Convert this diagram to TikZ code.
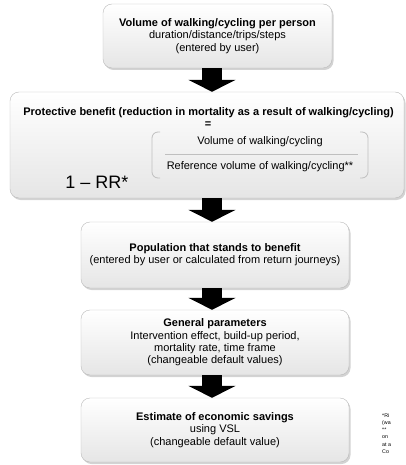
\documentclass[tikz,border=0pt]{standalone}
\usepackage{fontspec}
\setmainfont{Liberation Sans}
\usetikzlibrary{arrows.meta,shadows}

\begin{document}
\begin{tikzpicture}[x=1pt,y=-1pt,
	stepbox/.style={draw=gray!55,rounded corners=9pt,top color=white,bottom color=gray!20,
		drop shadow={opacity=0.35,shadow xshift=1.5pt,shadow yshift=-2pt},
		inner sep=0pt,align=center,font=\fontsize{11}{12.3}\selectfont},
	plaintext/.style={inner sep=0pt,align=center,font=\fontsize{11}{12.3}\selectfont},
	bracket/.style={draw=gray!50,line width=0.8pt,rounded corners=6pt},
	blockarrow/.style={line width=20pt,-{Triangle[width=47pt,length=12pt]}},
	fnote/.style={inner sep=0pt,align=left,font=\fontsize{5.3}{7.3}\selectfont}]
\useasboundingbox (0,0) rectangle (406,465);
		\coordinate (ax) at (212,0);
		% boxes
		\node[stepbox,minimum width=229pt,minimum height=64pt] (vol) at (217.5,36)
			{\textbf{Volume of walking/cycling per person}\\duration/distance/trips/steps\\(entered by user)};
		\node[stepbox,minimum width=394pt,minimum height=106pt] (prot) at (207,145) {};
		\node[stepbox,minimum width=268pt,minimum height=66pt] (pop) at (215,255)
			{\textbf{Population that stands to benefit}\\(entered by user or calculated from return journeys)};
		\node[stepbox,minimum width=268pt,minimum height=65pt] (gen) at (215,342.5)
			{\textbf{General parameters}\\Intervention effect, build-up period,\\mortality rate, time frame\\(changeable default values)};
		\node[stepbox,minimum width=268pt,minimum height=64pt] (est) at (215,430)
			{\textbf{Estimate of economic savings}\\using VSL\\(changeable default value)};
		% inside the protective benefit box
		\node[plaintext] (title) at (208.5,113) {\textbf{Protective benefit (reduction in mortality as a result of walking/cycling)}};
		\node[plaintext] (eq) at (208,125) {\textbf{=}};
		\node[plaintext] (num) at (260,142) {Volume of walking/cycling};
		\node[plaintext] (den) at (260,167) {Reference volume of walking/cycling**};
		\node[inner sep=0pt,font=\fontsize{18}{20}\selectfont] (rr) at (97,182) {1 – RR*};
		\draw[bracket] (160,132) -- (152,132) -- (152,178) -- (160,178);
		\draw[bracket] (360,132) -- (368,132) -- (368,178) -- (360,178);
		\draw[draw=gray!50,line width=0.6pt] (165,154) -- (358,154);
		% footnote (cut by the page edge)
		\node[fnote,anchor=north west] (fn) at (382,413) {*Ri\\(wa\\** \\on \\at a\\Co};
		% arrows
		\draw[blockarrow] (vol.south -| ax) -- (prot.north -| ax);
		\draw[blockarrow] (prot.south -| ax) -- (pop.north -| ax);
		\draw[blockarrow] (pop.south -| ax) -- (gen.north -| ax);
		\draw[blockarrow] (gen.south -| ax) -- (est.north -| ax);
\end{tikzpicture}
\end{document}
